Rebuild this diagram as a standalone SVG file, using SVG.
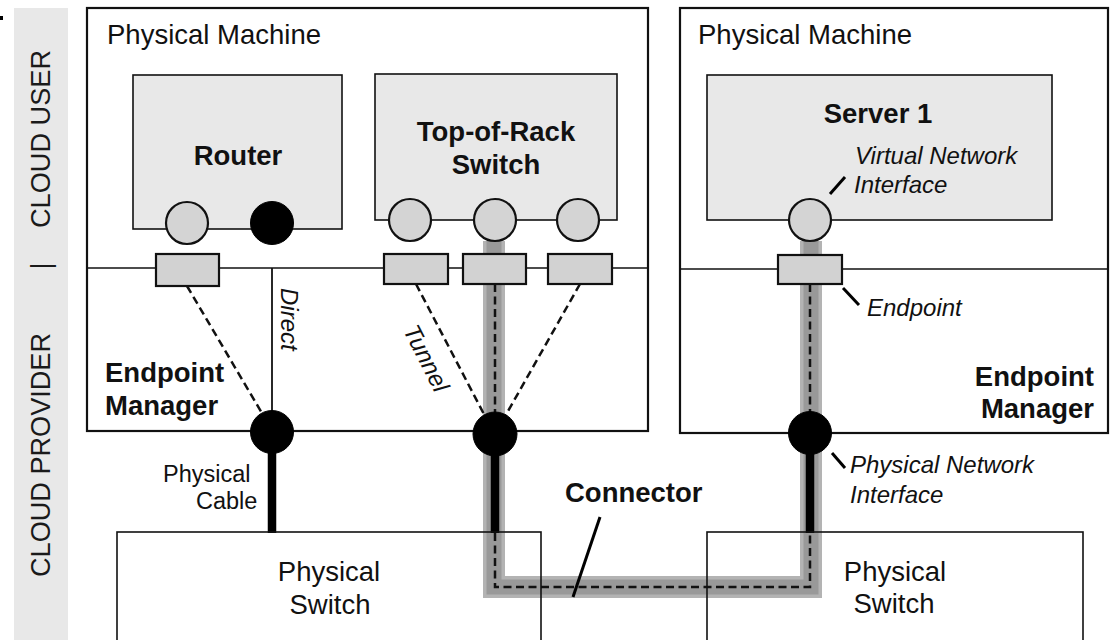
<svg xmlns="http://www.w3.org/2000/svg" width="1115" height="640" viewBox="0 0 1115 640">
  <style>
    text { font-family: "Liberation Sans", Arial, Helvetica, sans-serif; fill: #111; }
    .reg { font-size: 27.5px; }
    .small { font-size: 23.5px; }
    .bold { font-size: 27.5px; font-weight: bold; }
    .ital { font-size: 24px; font-style: italic; }
    .side { font-size: 27px; fill: #1a1a1a; }
    .machine { fill: #fff; stroke: #111; stroke-width: 2.2; }
    .vm { fill: #e8e8e8; stroke: #111; stroke-width: 1.6; }
    .pswitch { fill: #fff; stroke: none; }
    .pswitch-edge { fill: none; stroke: #111; stroke-width: 1.6; }
    .divider { stroke: #111; stroke-width: 1.6; fill: none; }
    .vif { fill: #d4d4d4; stroke: #111; stroke-width: 2.2; }
    .pif { fill: #000; stroke: #000; stroke-width: 1; }
    .ep { fill: #d2d2d2; stroke: #111; stroke-width: 2.2; }
    .dash { stroke: #111; stroke-width: 2.5; stroke-dasharray: 8 4.5; fill: none; }
    .cable { stroke: #000; stroke-width: 8.5; fill: none; }
    .leader { stroke: #000; stroke-width: 3; fill: none; }
  </style>

  <!-- side band with the ownership labels -->
  <g id="ownership-band">
    <rect x="0" y="16" width="3" height="4" fill="#000"/>
    <rect x="14" y="8" width="54" height="632" fill="#e8e8e8"/>
    <text class="side" transform="translate(50,228) rotate(-90)" textLength="178" lengthAdjust="spacingAndGlyphs">CLOUD USER</text>
    <text class="side" transform="translate(50,266) rotate(-90)" text-anchor="middle">|</text>
    <text class="side" transform="translate(50,577) rotate(-90)" textLength="244" lengthAdjust="spacingAndGlyphs">CLOUD PROVIDER</text>
  </g>

  <!-- physical machines -->
  <g id="machine-left">
    <rect class="machine" x="87" y="8" width="561" height="423"/>
    <line class="divider" x1="87" y1="268" x2="648" y2="268"/>
    <text class="reg" x="107" y="44">Physical Machine</text>
    <text class="bold" x="105" y="382">Endpoint</text>
    <text class="bold" x="105" y="415">Manager</text>
  </g>
  <g id="machine-right">
    <rect class="machine" x="680" y="8" width="428" height="425"/>
    <line class="divider" x1="680" y1="269" x2="1108" y2="269"/>
    <text class="reg" x="698" y="44">Physical Machine</text>
    <text class="bold" x="1094" y="386" text-anchor="end">Endpoint</text>
    <text class="bold" x="1094" y="418" text-anchor="end">Manager</text>
  </g>

  <!-- physical switches (fill below the connectors, outline above) -->
  <g id="switch-left">
    <rect class="pswitch" x="117" y="532" width="424" height="130"/>
    <text class="reg" x="329" y="581" text-anchor="middle">Physical</text>
    <text class="reg" x="330" y="614" text-anchor="middle">Switch</text>
  </g>
  <g id="switch-right">
    <rect class="pswitch" x="707" y="532" width="376" height="130"/>
    <text class="reg" x="895" y="581" text-anchor="middle">Physical</text>
    <text class="reg" x="894" y="613" text-anchor="middle">Switch</text>
  </g>

  <!-- virtual machines -->
  <g id="router">
    <rect class="vm" x="133" y="75" width="209" height="154"/>
    <text class="bold" x="238" y="165" text-anchor="middle">Router</text>
  </g>
  <g id="tor-switch">
    <rect class="vm" x="375" y="74" width="242" height="146"/>
    <text class="bold" x="496" y="141" text-anchor="middle">Top-of-Rack</text>
    <text class="bold" x="496" y="174" text-anchor="middle">Switch</text>
  </g>
  <g id="server-1">
    <rect class="vm" x="707" y="75" width="345" height="145"/>
    <text class="bold" x="878" y="123" text-anchor="middle">Server 1</text>
  </g>

  <!-- connectors -->
  <g id="connectors">
    <!-- highlighted connector path between the two machines -->
    <path d="M494 241 V587 H811 V241" fill="none" stroke="#b3b3b3" stroke-width="22" stroke-linejoin="miter"/>
    <path d="M494 241 V587 H811 V241" fill="none" stroke="#999" stroke-width="15" stroke-linejoin="miter"/>
    <!-- tunnels and direct link inside the endpoint managers -->
    <line class="dash" x1="187" y1="286" x2="266" y2="420"/>
    <line x1="272" y1="268" x2="272" y2="432" stroke="#111" stroke-width="1.8"/>
    <line class="dash" x1="416" y1="284" x2="487" y2="420"/>
    <line class="dash" x1="495" y1="284" x2="495" y2="432"/>
    <line class="dash" x1="580" y1="284" x2="503" y2="420"/>
    <line class="dash" x1="810" y1="284" x2="810" y2="432"/>
    <!-- physical cables -->
    <line class="cable" x1="272" y1="432" x2="272" y2="533"/>
    <line class="cable" x1="495" y1="434" x2="495" y2="533"/>
    <line class="cable" x1="810" y1="433" x2="810" y2="533"/>
    <!-- path through the physical network -->
    <path class="dash" d="M495 533 V587 H810 V533"/>
    <!-- link labels -->
    <text class="ital" transform="translate(281,288) rotate(90)" font-size="23.5">Direct</text>
    <text class="ital" transform="translate(419,362) rotate(63)" text-anchor="middle" font-size="23.5">Tunnel</text>
    <text class="small" x="163" y="482">Physical</text>
    <text class="small" x="196" y="509">Cable</text>
    <text class="bold" x="565" y="502">Connector</text>
    <line class="leader" x1="600" y1="517" x2="573" y2="597"/>
  </g>

  <!-- switch outlines drawn over the connector path -->
  <g id="switch-outlines">
    <rect class="pswitch-edge" x="117" y="532" width="424" height="130"/>
    <rect class="pswitch-edge" x="707" y="532" width="376" height="130"/>
  </g>

  <!-- endpoints -->
  <g id="endpoints">
    <rect class="ep" x="156" y="254" width="63" height="32"/>
    <rect class="ep" x="384" y="254" width="64" height="30"/>
    <rect class="ep" x="463" y="254" width="63" height="30"/>
    <rect class="ep" x="548" y="254" width="64" height="30"/>
    <rect class="ep" x="778" y="255" width="64" height="29"/>
  </g>

  <!-- virtual network interfaces -->
  <g id="virtual-interfaces">
    <circle class="vif" cx="187" cy="223" r="21"/>
    <circle class="pif" cx="272" cy="223" r="21.5"/>
    <circle class="vif" cx="410" cy="220" r="21"/>
    <circle class="vif" cx="495" cy="220" r="21"/>
    <circle class="vif" cx="578" cy="220" r="21"/>
    <circle class="vif" cx="810" cy="220" r="21"/>
  </g>

  <!-- physical network interfaces -->
  <g id="physical-interfaces">
    <circle class="pif" cx="272" cy="432" r="21.5"/>
    <circle class="pif" cx="495" cy="434" r="22"/>
    <circle class="pif" cx="810" cy="433" r="21.5"/>
  </g>

  <!-- callouts -->
  <g id="callouts">
    <line class="leader" x1="830" y1="194" x2="845" y2="177"/>
    <text class="ital" x="855" y="164">Virtual Network</text>
    <text class="ital" x="854" y="193">Interface</text>
    <line class="leader" x1="843" y1="288" x2="859" y2="305"/>
    <text class="ital" x="867" y="316">Endpoint</text>
    <line class="leader" x1="832" y1="453" x2="845" y2="468"/>
    <text class="ital" x="850" y="473">Physical Network</text>
    <text class="ital" x="850" y="503">Interface</text>
  </g>
</svg>
